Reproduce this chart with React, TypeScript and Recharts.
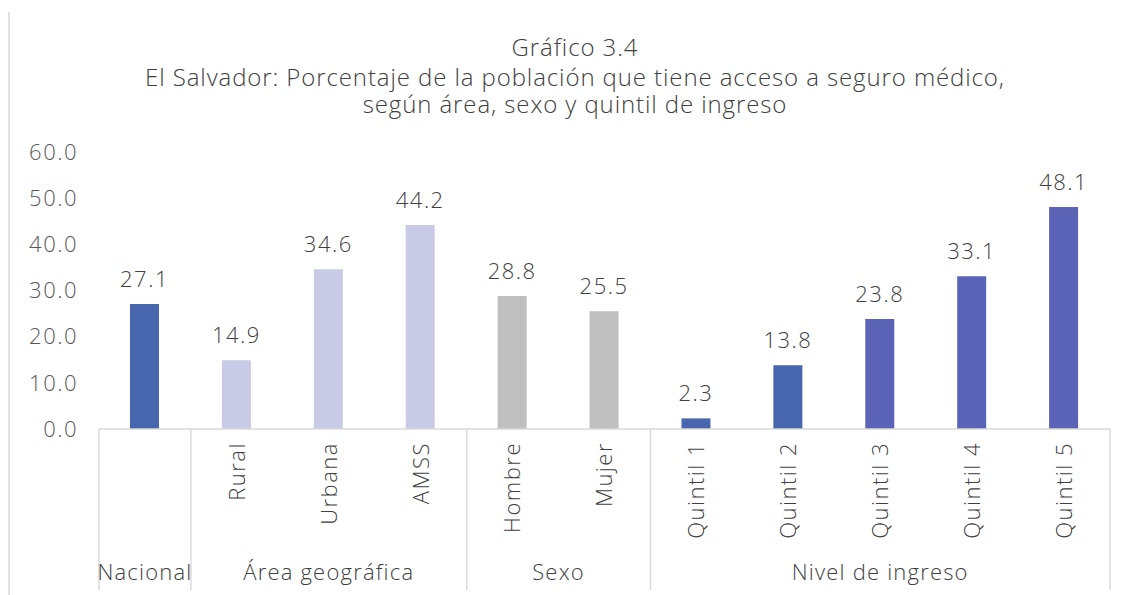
import React from 'react';
import { BarChart, Bar, XAxis, YAxis, Cell, LabelList } from 'recharts';

const categories = ['Nacional', 'Rural', 'Urbana', 'AMSS', 'Hombre', 'Mujer', 'Quintil 1', 'Quintil 2', 'Quintil 3', 'Quintil 4', 'Quintil 5'];
const values = [27.1, 14.9, 34.6, 44.2, 28.8, 25.5, 2.3, 13.8, 23.8, 33.1, 48.1];
const groupLabels = ['Nacional', 'Área geográfica', 'Sexo', 'Nivel de ingreso'];
const groupSizes = [1, 3, 2, 5];
const yTicks = [0, 10, 20, 30, 40, 50, 60];
const titleLines = [
  'Gráfico 3.4',
  'El Salvador: Porcentaje de la población que tiene acceso a seguro médico,',
  'según área, sexo y quintil de ingreso',
];

const DARK = '#4866ad';
const LIGHT = '#c9cbe6';
const GRAY = '#bfbfbf';
const PURPLE = '#5b63b6';
const barColors = [DARK, LIGHT, LIGHT, LIGHT, GRAY, GRAY, DARK, DARK, PURPLE, PURPLE, PURPLE];

const data = categories.map((name, i) => ({ name, value: values[i] }));

const groupStarts: number[] = [];
{
  let acc = 0;
  groupSizes.forEach((s) => {
    groupStarts.push(acc);
    acc += s;
  });
}

const FONT = '"Open Sans", Lato, sans-serif';
const LINE = '#d9d9d9';
const SEP_BOTTOM = 590;
const TXT = '#404040';

function XTick(props: any) {
  const { x, y, payload, index } = props;
  const idx = payload?.index ?? index;
  const half = payload?.offset ?? 46;
  const gi = groupStarts.indexOf(idx);
  const isLast = idx === categories.length - 1;
  const showRot = gi === -1 || groupSizes[gi] !== 1;
  return (
    <g>
      {showRot && (
        <text
          x={x}
          y={y + 13}
          transform={`rotate(-90, ${x}, ${y + 13})`}
          textAnchor="end"
          dy="0.36em"
          fontSize={22}
          fontWeight={300}
          letterSpacing={1.5}
          fontFamily={FONT}
          fill={TXT}
        >
          {payload.value}
        </text>
      )}
      {gi >= 0 && (
        <>
          <line x1={x - half} x2={x - half} y1={y} y2={SEP_BOTTOM} stroke={LINE} strokeWidth={1.5} />
          <text
            x={x - half + groupSizes[gi] * half}
            y={580}
            textAnchor="middle"
            fontSize={22}
            fontWeight={300}
            letterSpacing={1.2}
            fontFamily={FONT}
            fill={TXT}
          >
            {groupLabels[gi]}
          </text>
        </>
      )}
      {isLast && <line x1={x + half} x2={x + half} y1={y} y2={SEP_BOTTOM} stroke={LINE} strokeWidth={1.5} />}
    </g>
  );
}

export default function App() {
  return (
    <div style={{ position: 'absolute', left: 0, top: 0, width: 1126, height: 595, background: '#fff' }}>
      <svg width={1126} height={595} style={{ position: 'absolute', left: 0, top: 0 }}>
        <line x1={9} x2={9} y1={12} y2={595} stroke={LINE} strokeWidth={1.5} />
        {titleLines.map((t, i) => (
          <text
            key={i}
            x={575}
            y={[56, 86, 113][i]}
            textAnchor="middle"
            fontSize={24}
            fontWeight={300}
            letterSpacing={0.9}
            fontFamily={FONT}
            fill={TXT}
          >
            {t}
          </text>
        ))}
      </svg>
      <div style={{ position: 'absolute', left: 0, top: 0 }}>
        <BarChart
          width={1126}
          height={595}
          data={data}
          margin={{ top: 152, right: 16, bottom: 0, left: 19 }}
        >
          <YAxis
            width={80}
            domain={[0, 60]}
            ticks={yTicks}
            interval={0}
            axisLine={false}
            tickLine={false}
            tickMargin={15}
            tickFormatter={(v: number) => v.toFixed(1)}
            tick={{ fontSize: 22, fontWeight: 300, fontFamily: FONT, fill: '#595959', letterSpacing: 1.5 }}
          />
          <XAxis
            dataKey="name"
            interval={0}
            tickLine={false}
            tickSize={0}
            tickMargin={0}
            axisLine={{ stroke: LINE, strokeWidth: 1.5 }}
            tick={<XTick />}
            height={166}
          />
          <Bar dataKey="value" barSize={29} isAnimationActive={false}>
            {data.map((d, i) => (
              <Cell key={d.name} fill={barColors[i]} />
            ))}
            <LabelList
              dataKey="value"
              position="top"
              offset={17}
              formatter={(v: number) => v.toFixed(1)}
              style={{ fontSize: 22, fontWeight: 300, fontFamily: FONT, fill: TXT, letterSpacing: 1.5 }}
            />
          </Bar>
        </BarChart>
      </div>
    </div>
  );
}
